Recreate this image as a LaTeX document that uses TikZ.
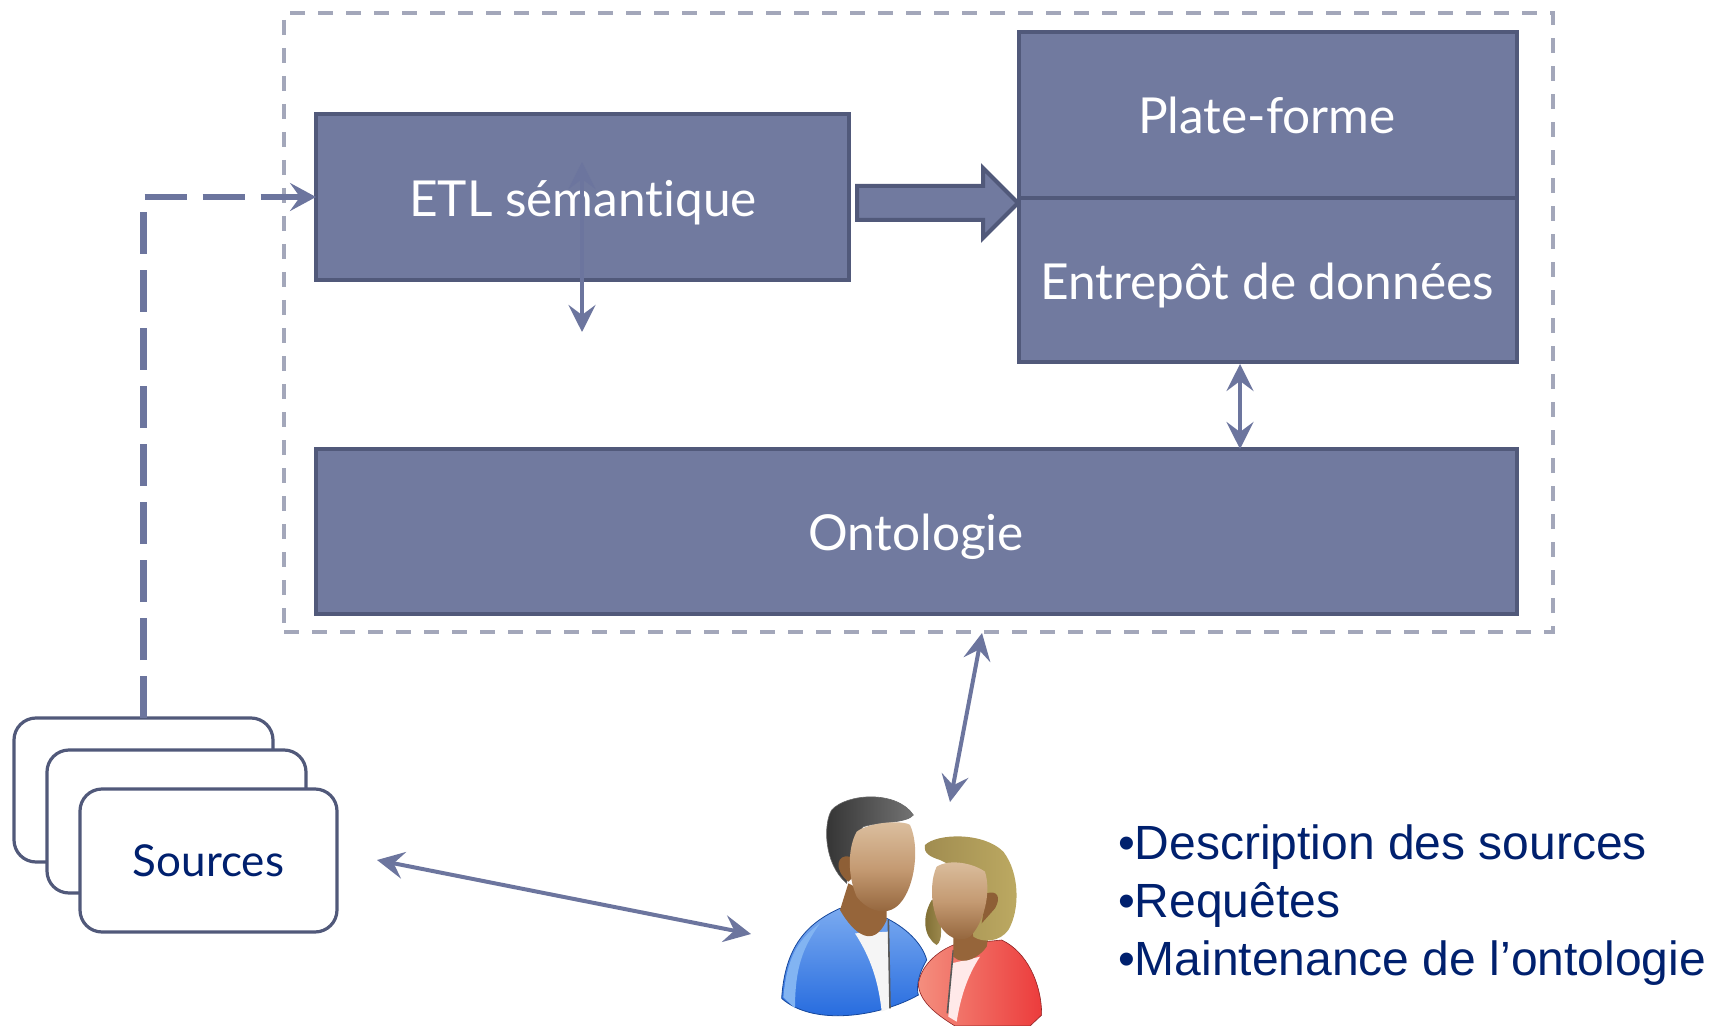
\documentclass[tikz,border=0pt]{standalone}
\usepackage{fontspec}
\setmainfont{Lato}[Ligatures=NoCommon]
\newfontfamily\arialf{Liberation Sans}
\usetikzlibrary{arrows.meta,calc,shapes.arrows}
\definecolor{boxfill}{HTML}{717A9F}
\definecolor{boxline}{HTML}{51597A}
\definecolor{conn}{HTML}{6C759E}
\definecolor{outerd}{HTML}{A3A7BA}
\definecolor{navy}{HTML}{00206E}
\definecolor{skinlt}{HTML}{DCC0A0}
\definecolor{skinmd}{HTML}{C49A72}
\definecolor{skindk}{HTML}{8E5F36}
\definecolor{neckc}{HTML}{96653A}
\definecolor{blulo}{HTML}{1F66DD}
\definecolor{bluhi}{HTML}{7AAAF0}
\definecolor{blustr}{HTML}{82B4F2}
\definecolor{redlt}{HTML}{F48E7E}
\definecolor{reddk}{HTML}{EC3C3C}
\definecolor{hairlt}{HTML}{BDAA62}
\definecolor{hairmd}{HTML}{A08C50}
\definecolor{hairdk}{HTML}{7A6A30}
\tikzset{
  bluebox/.style={draw=boxline,fill=boxfill,line width=2pt,outer sep=0pt,inner sep=0pt},
  boxtext/.style={text=white,font=\fontsize{24.8}{28}\selectfont,anchor=base},
  srcbox/.style={draw=boxline,fill=white,line width=1.6pt,rounded corners=11pt,inner sep=0pt,outer sep=0pt},
  listtext/.style={anchor=base west,text=navy,font=\arialf\fontsize{24}{29}\selectfont},
  tipped/.style={draw=conn,line width=2pt,{Stealth[length=13.5pt,width=13.5pt,inset=5pt]}-{Stealth[length=13.5pt,width=13.5pt,inset=5pt]}},
}
\begin{document}
\begin{tikzpicture}[x=0.5pt,y=-0.5pt]
\useasboundingbox (0,0) rectangle (1712,1026);
% outer dashed frame
\node[draw=outerd,line width=2pt,dash pattern=on 7.5pt off 6.5pt,minimum width=634.5pt,minimum height=309.5pt,inner sep=0pt,outer sep=0pt,anchor=north west] (frame) at (284,13) {};
% boxes
\node[bluebox,minimum width=266.5pt,minimum height=83pt,anchor=north west] (etl) at (316,114) {};
\node[bluebox,minimum width=249pt,minimum height=83pt,anchor=north west] (plate) at (1019,32) {};
\node[bluebox,minimum width=249pt,minimum height=82pt,anchor=north west] (entre) at (1019,198) {};
\node[bluebox,minimum width=600.5pt,minimum height=82.5pt,anchor=north west] (onto) at (316,449) {};
\node[boxtext] (etltxt) at (583,217) {ETL sémantique};
\node[boxtext] (platetxt) at (1267,134) {Plate-forme};
\node[boxtext] (entretxt) at (1267,300) {Entrepôt de données};
\node[boxtext] (ontotxt) at (916,550) {Ontologie};
% block arrow
\node[single arrow,draw=boxline,fill=boxfill,line width=2pt,minimum height=80.5pt,single arrow head extend=9pt,single arrow tip angle=90,inner xsep=0pt,inner ysep=7.5pt,outer sep=0pt,anchor=tip] (block) at (1018,203) {};
% sources
\node[srcbox,minimum width=129.5pt,minimum height=72pt,anchor=north west] (src1) at (14,718) {};
\node[srcbox,minimum width=129.5pt,minimum height=71.5pt,anchor=north west] (src2) at (47,750) {};
\node[srcbox,minimum width=128.5pt,minimum height=71.5pt,anchor=north west,text=navy,font=\fontsize{22}{26}\selectfont] (src3) at (80,789) {Sources};
% connectors
\coordinate (etlup) at (582,162);
\coordinate (etldown) at (582,332);
\coordinate (pa) at (1240,364);
\coordinate (pb) at (1240,449);
\coordinate (ua) at (982,633);
\coordinate (ub) at (950,802);
\coordinate (sa) at (377,860);
\coordinate (sb) at (751,934);
\draw[draw=conn,line width=3.2pt,dash pattern=on 21pt off 8pt,-{Stealth[length=13pt,width=14pt,inset=5pt]}] (src1.north) |- (etl.west);
\draw[tipped] (etlup) -- (etldown);
\draw[tipped] (pa) -- (pb);
\draw[tipped] (ua) -- (ub);
\draw[tipped] (sa) -- (sb);
% text list
\node[listtext] (l1) at (1111,859) {•Description des sources};
\node[listtext] (l2) at (1111,917) {•Requêtes};
\node[listtext] (l3) at (1111,975) {•Maintenance de l’ontologie};
% people icon
\begin{scope}[shift={(740,760)},x=0.16667pt,y=-0.16667pt]
 % man body
 \path[top color=bluhi,bottom color=blulo,draw=blulo!70!black,line width=.4pt]
  (125,715) .. controls (135,560) and (200,490) .. (300,445) -- (440,475)
  .. controls (510,510) and (550,560) .. (560,600)
  .. controls (530,650) and (530,690) .. (535,705)
  .. controls (420,770) and (220,800) .. (125,715) -- cycle;
 \fill[blustr] (130,712) .. controls (140,600) and (170,540) .. (240,490) .. controls (190,560) and (165,620) .. (165,745) -- cycle;
 % shirt
 \fill[gray!8] (345,520) -- (445,515) -- (450,745) -- (425,755) .. controls (415,660) and (390,590) .. (345,520) -- cycle;
 \draw[gray!70!black,line width=.8pt] (445,480) -- (450,745);
 % man neck
 \fill[neckc] (325,370) -- (300,450) .. controls (340,520) and (400,570) .. (440,480) -- (440,430) -- cycle;
 % man hair
 \path[left color=black!80,right color=black!55,draw=black!60,line width=.3pt]
  (320,370) .. controls (250,310) and (250,190) .. (275,150)
  .. controls (320,100) and (470,90) .. (520,165)
  .. controls (500,190) and (420,185) .. (370,200)
  .. controls (340,230) and (330,290) .. (320,370) -- cycle;
 % man ear and face
 \fill[skindk] (330,290) .. controls (290,280) and (280,330) .. (325,365) -- (350,340) -- cycle;
 \path[top color=skinlt,bottom color=skindk,middle color=skinmd]
  (350,215) .. controls (390,185) and (490,180) .. (510,195)
  .. controls (540,260) and (525,380) .. (480,430)
  .. controls (440,475) and (380,450) .. (350,410)
  .. controls (320,340) and (325,260) .. (350,215) -- cycle;
 % woman body
 \path[left color=redlt,right color=reddk,draw=reddk!60!black,line width=.3pt]
  (535,675) .. controls (540,620) and (590,575) .. (640,555) -- (785,540)
  .. controls (860,575) and (905,670) .. (905,765)
  -- (870,798) -- (645,798) .. controls (600,770) and (540,730) .. (535,675) -- cycle;
 % woman shirt
 \fill[pink!35] (635,610) -- (720,590) .. controls (680,650) and (660,720) .. (650,785) -- (625,770) -- cycle;
 \draw[gray!70!black,line width=.8pt] (640,570) -- (622,760);
 % woman neck
 \fill[neckc] (640,520) -- (640,590) .. controls (670,620) and (720,590) .. (740,560) -- (750,500) -- cycle;
 % woman hair
 \path[left color=hairdk,right color=hairmd]
  (575,420) .. controls (545,470) and (550,530) .. (590,555) .. controls (610,540) and (605,500) .. (590,420) -- cycle;
 \path[left color=hairmd,right color=hairlt]
  (600,300) .. controls (570,290) and (550,280) .. (555,255)
  .. controls (590,220) and (730,215) .. (790,275)
  .. controls (840,340) and (840,450) .. (805,510)
  .. controls (780,545) and (730,550) .. (700,530) -- (680,340) -- cycle;
 % woman ear and face
 \fill[skindk] (740,400) .. controls (770,390) and (785,410) .. (765,445) -- (725,490) -- cycle;
 \path[top color=skinlt,bottom color=skindk,middle color=skinmd]
  (590,320) .. controls (630,295) and (700,310) .. (735,335)
  .. controls (755,400) and (730,490) .. (690,530)
  .. controls (650,555) and (600,520) .. (585,460)
  .. controls (570,410) and (575,350) .. (590,320) -- cycle;
\end{scope}
\end{tikzpicture}
\end{document}
